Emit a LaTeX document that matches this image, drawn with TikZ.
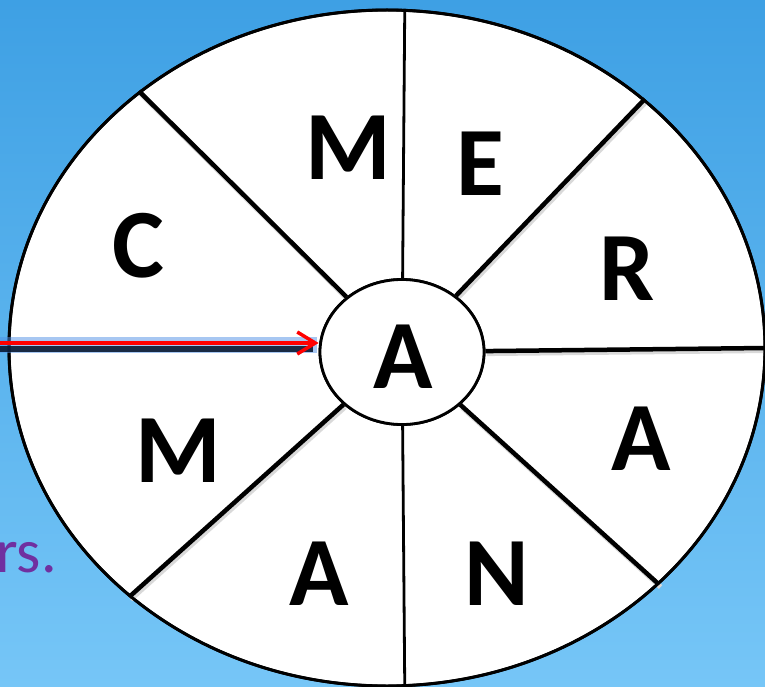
\documentclass[tikz,border=0pt]{standalone}
\usepackage{fontspec}
\setmainfont{Carlito}
\usetikzlibrary{positioning, shapes.geometric, arrows.meta}
\definecolor{skytop}{RGB}{62,160,228}
\definecolor{skybottom}{RGB}{118,198,247}
\definecolor{wordpurple}{RGB}{112,48,160}
\definecolor{pointerred}{RGB}{255,0,0}
\definecolor{glowblue}{RGB}{80,145,230}
\definecolor{shadownavy}{RGB}{10,25,50}

\begin{document}
\begin{tikzpicture}[
        x=1pt, y=-1pt,
        every node/.style={font=\fontsize{98}{98}\selectfont\bfseries},
        letter/.style={inner sep=0pt, anchor=base},
        ring/.style={ellipse, draw, line width=2.8pt, fill=white, inner sep=0pt},
        spoke/.style={line width=4.5pt, preaction={draw=black!15, line width=5pt, transform canvas={shift={(1.5pt,-2.5pt)}}}},
        thinspoke/.style={line width=2.8pt},
    ]
        \useasboundingbox (0,0) rectangle (765,687);
        % Background
        \shade[top color=skytop, bottom color=skybottom] (0,0) rectangle (765,687);

        % Wheel and hub
        \node[ring, minimum width=756pt, minimum height=676pt] (wheel) at (387,348) {};
        \node[ring, minimum width=164pt, minimum height=145pt] (hub) at (402,352) {};

        % Spokes
        \draw[thinspoke] (hub) -- (wheel.87);
        \draw[thinspoke] (hub) -- (wheel.273);
        \foreach \a in {0,44,134,224,319}
            \draw[spoke] (hub) -- (wheel.\a);
        \draw[line width=3pt] (wheel.center) ellipse [x radius=378, y radius=338];
        \node[ring, minimum width=164pt, minimum height=145pt] at (hub) {};

        % Letters
        \node[letter] (m1) at (348,180) {M};
        \node[letter] (e) at (480,195) {E};
        \node[letter] (c) at (138,277) {C};
        \node[letter] (r) at (627,300) {R};
        \node[letter] (a0) at (403,388) {A};
        \node[letter] (a1) at (641,470) {A};
        \node[letter] (m2) at (178,482) {M};
        \node[letter] (a2) at (319,605) {A};
        \node[letter] (n) at (497,605) {N};

        \node[font=\fontsize{62}{62}\selectfont, text=wordpurple, inner sep=0pt, anchor=base east] (word) at (57,572) {rs.};

        % Pointer
        \coordinate (pin) at (0,343);
        \draw[glowblue, opacity=0.5, line width=16pt] ([yshift=-2pt]pin) -- ([xshift=-2pt, yshift=-2pt]pin -| hub.west);
        \draw[shadownavy, opacity=0.9, line width=6pt] ([yshift=-6pt]pin) -- ([xshift=-6pt, yshift=-6pt]pin -| hub.west);
        \draw[pointerred, line width=3.5pt, -{Straight Barb[length=18pt, width=22pt, line width=3.5pt]}] (pin) -- (pin -| hub.west);

    \end{tikzpicture}
\end{document}
